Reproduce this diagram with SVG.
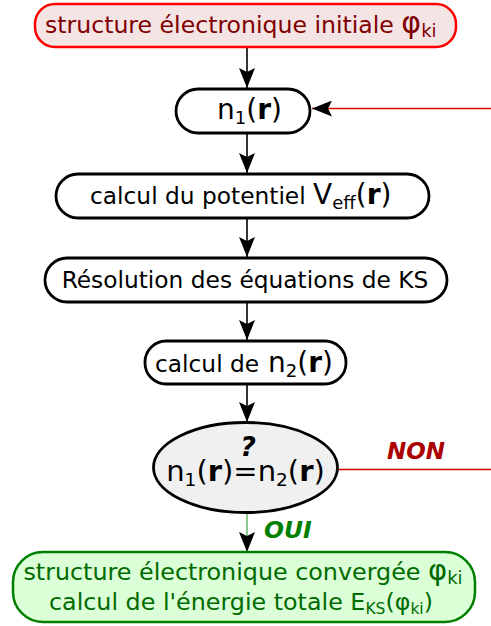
<svg xmlns="http://www.w3.org/2000/svg" width="491" height="626" viewBox="0 0 491 626">
<style>
text{font-family:"DejaVu Sans","Liberation Sans",sans-serif;}
.box{fill:#fff;stroke:#000;stroke-width:2.8;}
.t{font-size:23.3px;fill:#000;}
.big{font-size:28px;}
.b{font-weight:bold;}
.conn{stroke:#000;stroke-width:1.6;fill:none;}
.red{stroke:#d40000;stroke-width:1.3;fill:none;}
.grn{stroke:#4caf50;stroke-width:1.3;fill:none;}
</style>
<defs>
<marker id="ah" markerUnits="userSpaceOnUse" markerWidth="20" markerHeight="16" viewBox="0 0 20 16" refX="20" refY="8" orient="auto">
<path d="M0,0 L20,8 L0,16 L4,8 Z" fill="#000"/>
</marker>
</defs>
<g id="connectors">
<line class="conn" x1="247" y1="48" x2="247" y2="88" marker-end="url(#ah)"/>
<line class="conn" x1="247" y1="133" x2="247" y2="173" marker-end="url(#ah)"/>
<line class="conn" x1="247" y1="218" x2="247" y2="257" marker-end="url(#ah)"/>
<line class="conn" x1="247" y1="302" x2="247" y2="340" marker-end="url(#ah)"/>
<line class="conn" x1="247" y1="384" x2="247" y2="422" marker-end="url(#ah)"/>
<line class="grn" x1="247" y1="513" x2="247" y2="552" marker-end="url(#ah)"/>
<line class="red" x1="338" y1="469.5" x2="491" y2="469.5"/>
<line class="red" x1="491" y1="108.5" x2="312" y2="108.5" marker-end="url(#ah)"/>
<text x="387" y="459" font-size="23" font-weight="bold" font-style="italic" fill="#aa0000">NON</text>
<text x="264" y="538" font-size="23.5" font-weight="bold" font-style="italic" fill="#008000">OUI</text>
</g>
<g id="init">
<rect x="35" y="4" width="421" height="43" rx="20" fill="#f5e4e4" stroke="#ff0000" stroke-width="2.5"/>
<text x="45" y="33" font-size="23.6" fill="#800000">structure électronique initiale <tspan font-size="30">φ</tspan><tspan font-size="18" dy="4">ki</tspan></text>
</g>
<g id="n1">
<rect class="box" x="176" y="89" width="134" height="44" rx="22"/>
<text class="big" x="217" y="119">n<tspan font-size="18" dy="5">1</tspan><tspan dy="-5">(</tspan><tspan class="b">r</tspan>)</text>
</g>
<g id="veff">
<rect class="box" x="56" y="174" width="373" height="44" rx="22"/>
<text class="t" x="90" y="204">calcul du potentiel <tspan font-size="28">V</tspan><tspan font-size="18" dy="5">eff</tspan><tspan font-size="28" dy="-5">(</tspan><tspan font-size="28" class="b">r</tspan><tspan font-size="28">)</tspan></text>
</g>
<g id="ks">
<rect class="box" x="45" y="258" width="402" height="44" rx="22"/>
<text class="t" x="245" y="288" text-anchor="middle">Résolution des équations de KS</text>
</g>
<g id="n2">
<rect class="box" x="145" y="341" width="201" height="43" rx="21"/>
<text class="t" x="155" y="372">calcul de <tspan x="268" font-size="28">n</tspan><tspan font-size="18" dy="5">2</tspan><tspan font-size="28" dy="-5">(</tspan><tspan font-size="28" class="b">r</tspan><tspan font-size="28">)</tspan></text>
</g>
<g id="test">
<ellipse cx="245.5" cy="467.5" rx="92" ry="45" fill="#f0f0f0" stroke="#000" stroke-width="2.8"/>
<text x="248" y="456" font-size="27" font-weight="bold" font-style="italic" text-anchor="middle">?</text>
<text x="245.5" y="481" font-size="29" text-anchor="middle">n<tspan font-size="18.5" dy="5">1</tspan><tspan dy="-5">(</tspan><tspan class="b">r</tspan>)=n<tspan font-size="18.5" dy="5">2</tspan><tspan dy="-5">(</tspan><tspan class="b">r</tspan>)</text>
</g>
<g id="final">
<rect x="13" y="552" width="462" height="70" rx="30" fill="#dbffd6" stroke="#008000" stroke-width="2.5"/>
<text x="243" y="580" font-size="23.8" fill="#006a00" text-anchor="middle">structure électronique convergée <tspan font-size="29">φ</tspan><tspan font-size="18" dy="4">ki</tspan></text>
<text x="241" y="610" font-size="23.8" fill="#006a00" text-anchor="middle">calcul de l'énergie totale E<tspan font-size="15.5" dy="4">KS</tspan><tspan dy="-4">(φ</tspan><tspan font-size="15.5" dy="4">ki</tspan><tspan dy="-4">)</tspan></text>
</g>
</svg>
